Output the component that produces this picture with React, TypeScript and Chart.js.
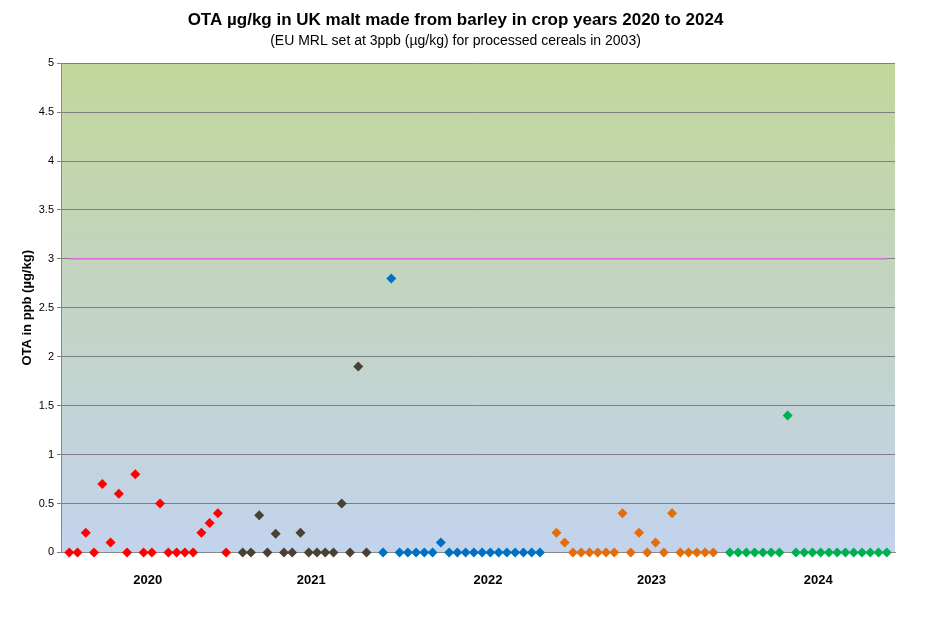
import React, { useEffect, useRef } from "react";
import { Chart, registerables } from "chart.js";
Chart.register(...registerables);

const yearLabels = ["2020", "2021", "2022", "2023", "2024"];
const yearLabelPos = [9.5, 29.3, 50.7, 70.5, 90.7];
const yearColors = ["#ff0000", "#4a4132", "#0070c0", "#e46c0a", "#00b050"];
const yearStart = [0, 21, 38, 59, 80];
const v2020 = [0, 0, 0.2, 0, 0.7, 0.1, 0.6, 0, 0.8, 0, 0, 0.5, 0, 0, 0, 0, 0.2, 0.3, 0.4, 0];
const v2021 = [0, 0, 0.38, 0, 0.19, 0, 0, 0.2, 0, 0, 0, 0, 0.5, 0, 1.9, 0];
const v2022 = [0, 2.8, 0, 0, 0, 0, 0, 0.1, 0, 0, 0, 0, 0, 0, 0, 0, 0, 0, 0, 0];
const v2023 = [0.2, 0.1, 0, 0, 0, 0, 0, 0, 0.4, 0, 0.2, 0, 0.1, 0, 0.4, 0, 0, 0, 0, 0];
const v2024 = [0, 0, 0, 0, 0, 0, 0, 1.4, 0, 0, 0, 0, 0, 0, 0, 0, 0, 0, 0, 0];
const yearValues = [v2020, v2021, v2022, v2023, v2024];
const mrlValue = 3;
const mrlRange = [0, 99];

const bgPlugin = {
  id: "bg",
  beforeDraw(chart: any) {
    const { ctx, chartArea: a } = chart;
    const g = ctx.createLinearGradient(0, a.top, 0, a.bottom);
    g.addColorStop(0, "#c3d69b");
    g.addColorStop(1, "#c2d3ed");
    ctx.save();
    ctx.fillStyle = g;
    ctx.fillRect(a.left, a.top, a.right - a.left, a.bottom - a.top);
    ctx.restore();
  },
};

export default function App() {
  const ref = useRef<HTMLCanvasElement>(null);
  useEffect(() => {
    const datasets: any[] = yearValues.map((vals, i) => ({
      label: yearLabels[i],
      data: vals.map((v, j) => ({ x: yearStart[i] + j, y: v })),
      pointStyle: "rectRot",
      pointRadius: 5,
      pointHoverRadius: 5,
      backgroundColor: yearColors[i],
      borderColor: yearColors[i],
      borderWidth: 0,
      showLine: false,
      clip: false,
    }));
    datasets.push({
      label: "MRL",
      data: mrlRange.map((x) => ({ x, y: mrlValue })),
      showLine: true,
      borderColor: "#ff66ff",
      borderWidth: 1.5,
      pointRadius: 0,
    });
    const chart = new Chart(ref.current!, {
      type: "scatter",
      data: { datasets },
      plugins: [bgPlugin],
      options: {
        animation: false,
        responsive: false,
        layout: { padding: { left: 8, right: 47, bottom: 12, top: 0 } },
        plugins: {
          legend: { display: false },
          tooltip: { enabled: false },
          title: {
            display: true,
            text: "OTA µg/kg in UK malt made from barley in crop years 2020 to 2024",
            font: { family: "Liberation Sans", size: 17, weight: "bold" },
            color: "#000",
            padding: { top: 2, bottom: 0 },
          },
          subtitle: {
            display: true,
            text: "(EU MRL set at 3ppb (µg/kg) for processed cereals in 2003)",
            font: { family: "Liberation Sans", size: 14 },
            color: "#000",
            padding: { top: 2, bottom: 14 },
          },
        },
        scales: {
          x: {
            type: "linear",
            min: -1,
            max: 100,
            afterBuildTicks: (axis: any) => {
              axis.ticks = yearLabelPos.map((v) => ({ value: v }));
            },
            ticks: {
              autoSkip: false,
              maxRotation: 0,
              callback: (_v: any, i: number) => yearLabels[i],
              font: { family: "Liberation Sans", size: 13, weight: "bold" },
              color: "#000",
              padding: 12,
            },
            grid: { display: false },
            border: { color: "#888" },
          },
          y: {
            min: 0,
            max: 5,
            afterFit: (axis: any) => {
              axis.width = 45;
            },
            ticks: {
              stepSize: 0.5,
              callback: (v: any) => String(Math.round(v * 10) / 10),
              font: { family: "Liberation Sans", size: 11 },
              color: "#000",
            },
            grid: { color: "#7f7f7f", drawTicks: true, tickLength: 4 },
            border: { color: "#888" },
            title: {
              display: true,
              text: "OTA in ppb (µg/kg)",
              font: { family: "Liberation Sans", size: 13, weight: "bold" },
              color: "#000",
            },
          },
        },
      },
    });
    return () => chart.destroy();
  }, []);
  return <canvas ref={ref} width={934} height={604} />;
}
